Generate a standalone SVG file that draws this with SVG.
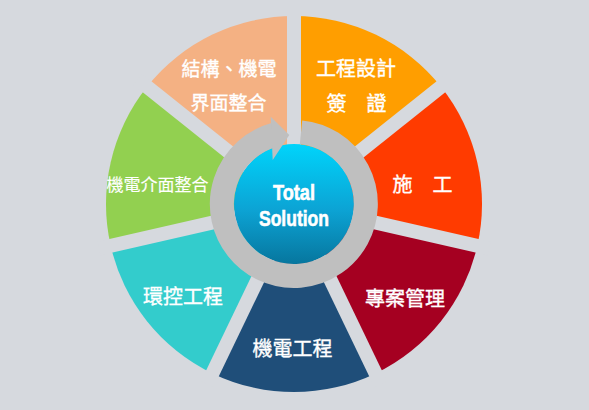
<svg xmlns="http://www.w3.org/2000/svg" width="589" height="410" viewBox="0 0 589 410">
  <defs>
    <linearGradient id="blueGrad" x1="0" y1="0" x2="0" y2="1">
      <stop offset="0" stop-color="#00d4fb"/>
      <stop offset="0.55" stop-color="#0ca3d4"/>
      <stop offset="1" stop-color="#07769e"/>
    </linearGradient>
  </defs>
  <style>
    .lbl { font-family: "Liberation Sans", "Noto Sans CJK TC", "Noto Sans CJK SC", sans-serif; fill: #ffffff; stroke: #ffffff; stroke-width: 0.35; text-anchor: middle; font-size: 20px; }
    .gap { stroke: #d6d9de; stroke-width: 14; fill: none; }
    .center { font-family: "Liberation Sans", "DejaVu Sans", sans-serif; font-weight: bold; fill: #ffffff; stroke: #ffffff; stroke-width: 0.6; text-anchor: middle; font-size: 22px; }
  </style>
  <rect x="0" y="0" width="589" height="410" fill="#d6d9de"/>

  <g id="node-design">
    <path d="M294,204 L294,16 A188,188 0 0 1 440.98,86.78 Z" fill="#ff9e00"/>
    <text class="lbl" x="356" y="76">工程設計</text>
    <text class="lbl" x="356.5" y="111">簽　證</text>
  </g>
  <g id="node-construction">
    <path d="M294,204 L440.98,86.78 A188,188 0 0 1 477.29,245.83 Z" fill="#ff3b00"/>
    <text class="lbl" x="422.5" y="192">施　工</text>
  </g>
  <g id="node-project">
    <path d="M294,204 L477.29,245.83 A188,188 0 0 1 375.57,373.38 Z" fill="#a50021"/>
    <text class="lbl" x="405" y="306">專案管理</text>
  </g>
  <g id="node-mep">
    <path d="M294,204 L375.57,373.38 A188,188 0 0 1 212.43,373.38 Z" fill="#1f4e79"/>
    <text class="lbl" x="292.5" y="356">機電工程</text>
  </g>
  <g id="node-hvac">
    <path d="M294,204 L212.43,373.38 A188,188 0 0 1 110.71,245.83 Z" fill="#33cccc"/>
    <text class="lbl" x="183" y="304">環控工程</text>
  </g>
  <g id="node-interface">
    <path d="M294,204 L110.71,245.83 A188,188 0 0 1 147.02,86.78 Z" fill="#92d050"/>
    <text class="lbl" x="157.5" y="191" style="font-size:17px;stroke-width:0.15">機電介面整合</text>
  </g>
  <g id="node-structure">
    <path d="M294,204 L147.02,86.78 A188,188 0 0 1 294,16 Z" fill="#f4b183"/>
    <text class="lbl" x="229" y="76" style="font-size:19px">結構、機電</text>
    <text class="lbl" x="228.5" y="109.5" style="font-size:19px">界面整合</text>
  </g>

  <g id="connectors">
    <line class="gap" x1="294" y1="204" x2="294" y2="4"/>
    <line class="gap" x1="294" y1="204" x2="450.37" y2="79.30"/>
    <line class="gap" x1="294" y1="204" x2="488.99" y2="248.50"/>
    <line class="gap" x1="294" y1="204" x2="380.78" y2="384.19"/>
    <line class="gap" x1="294" y1="204" x2="207.22" y2="384.19"/>
    <line class="gap" x1="294" y1="204" x2="99.01" y2="248.50"/>
    <line class="gap" x1="294" y1="204" x2="137.63" y2="79.30"/>
  </g>

  <g id="node-total">
    <circle cx="294" cy="204" r="60" fill="url(#blueGrad)"/>
    <path d="M301,132.34 A72,72 0 1 1 274.6,134.6" fill="none" stroke="#bfbfbf" stroke-width="24"/>
    <polygon points="270.7,116.7 289.3,135 272.7,160" fill="#bfbfbf"/>
    <text class="center" x="294" y="200" textLength="42" lengthAdjust="spacingAndGlyphs">Total</text>
    <text class="center" x="294" y="226" textLength="70" lengthAdjust="spacingAndGlyphs">Solution</text>
  </g>
</svg>
